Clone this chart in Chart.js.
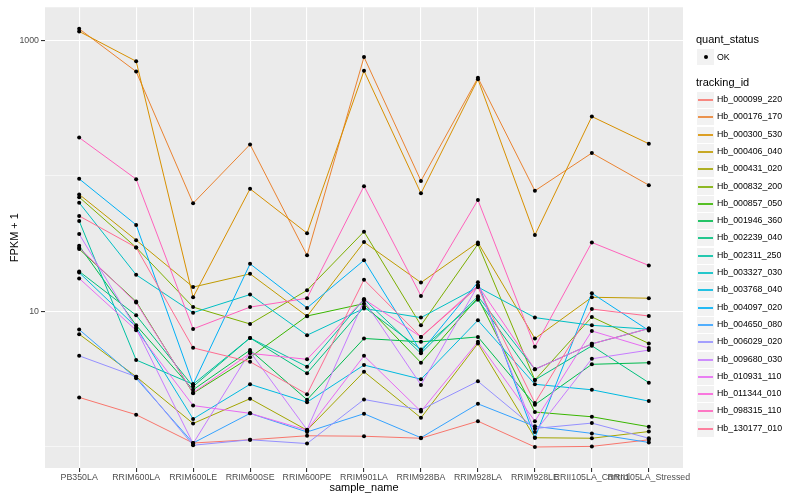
<!DOCTYPE html>
<html>
<head>
<meta charset="utf-8">
<script src="https://cdn.jsdelivr.net/npm/chart.js@4.4.0/dist/chart.umd.min.js"></script>
<style>
  body { margin: 0; background: #fff; }
  #wrap { position: relative; width: 800px; height: 500px; font-family: 'Liberation Sans', Arial, sans-serif; }
  #chart { position: absolute; left: 0; top: 0; }
  .lg { position: absolute; white-space: nowrap; color: #000; }
  .lg-title { font-size: 11px; line-height: 13px; }
  .lg-text { font-size: 8.8px; line-height: 11px; }
  .lg-key { position: absolute; width: 17px; height: 16px; background: #F2F2F2; }
  .lg-key .ln { position: absolute; left: 1px; right: 1px; top: 7px; height: 2px; opacity: 0.85; }
  .lg-key .dot { position: absolute; left: 6.5px; top: 6px; width: 4px; height: 4px; border-radius: 50%; background: #000; }
</style>
</head>
<body>
<div id="wrap">
  <canvas id="chart" width="800" height="500"></canvas>
  <div id="legend"></div>
</div>
<script>
const categories = ['PB350LA', 'RRIM600LA', 'RRIM600LE', 'RRIM600SE', 'RRIM600PE', 'RRIM901LA',
  'RRIM928BA', 'RRIM928LA', 'RRIM928LE', 'RRII105LA_Control', 'RRII105LA_Stressed'];

const trackingIds = ['Hb_000099_220', 'Hb_000176_170', 'Hb_000300_530', 'Hb_000406_040', 'Hb_000431_020',
  'Hb_000832_200', 'Hb_000857_050', 'Hb_001946_360', 'Hb_002239_040', 'Hb_002311_250',
  'Hb_003327_030', 'Hb_003768_040', 'Hb_004097_020', 'Hb_004650_080', 'Hb_006029_020',
  'Hb_009680_030', 'Hb_010931_110', 'Hb_011344_010', 'Hb_098315_110', 'Hb_130177_010'];

const seriesColors = ['#F8766D', '#EA8331', '#D89000', '#C09B00', '#A3A500', '#7CAE00', '#39B600',
  '#00BB4E', '#00BF7D', '#00C1A3', '#00BFC4', '#00BAE0', '#00B0F6', '#35A2FF', '#9590FF',
  '#C77CFF', '#E76BF3', '#FA62DB', '#FF62BC', '#FF6C91'];

// FPKM + 1, one value per sample
const hb_000099_220 = [2.32, 1.73, 1.07, 1.13, 1.21, 1.20, 1.16, 1.55, 1.00, 1.01, 1.13];
const hb_000176_170 = [1210, 586, 62.6, 170, 25.9, 750, 91.6, 527, 77.4, 147, 85.2];
const hb_000300_530 = [1158, 698, 12.7, 80, 37.7, 593, 74.1, 515, 36.5, 273, 172];
const hb_000406_040 = [72.8, 33.5, 15.1, 18.9, 9.2, 32.4, 16.3, 32.2, 6.3, 12.7, 12.5];
const hb_000431_020 = [6.79, 3.30, 1.49, 2.27, 1.33, 3.59, 1.64, 5.80, 1.17, 1.16, 1.30];
const hb_000832_200 = [69.5, 29.6, 10.75, 8.07, 14.3, 38.7, 7.89, 31.3, 3.12, 9.09, 5.80];
const hb_000857_050 = [28.8, 11.8, 2.49, 4.58, 9.24, 11.4, 4.18, 12.6, 1.81, 1.67, 1.41];
const hb_001946_360 = [30.4, 7.89, 2.64, 5.18, 2.23, 6.31, 5.96, 6.48, 2.05, 4.07, 4.18];
const hb_002239_040 = [19.7, 9.35, 2.79, 6.37, 3.50, 10.75, 5.24, 12.2, 3.12, 5.57, 2.98];
const hb_002311_250 = [46.4, 4.38, 2.90, 6.37, 3.91, 12.3, 4.90, 12.9, 3.74, 5.76, 7.47];
const hb_003327_030 = [63.2, 18.6, 9.78, 13.3, 6.67, 10.5, 8.99, 15.1, 8.99, 7.89, 7.38];
const hb_003768_040 = [19.3, 7.67, 1.61, 2.90, 2.14, 4.02, 3.16, 8.59, 2.90, 2.64, 2.18];
const hb_004097_020 = [94.8, 43.4, 2.90, 22.4, 10.6, 23.8, 5.03, 16.4, 1.17, 13.6, 7.22];
const hb_004650_080 = [7.34, 3.21, 1.07, 1.77, 1.29, 1.76, 1.17, 2.08, 1.42, 1.26, 1.08];
const hb_006029_020 = [4.70, 3.30, 1.03, 1.13, 1.06, 2.24, 1.88, 3.05, 1.37, 1.50, 1.16];
const hb_009680_030 = [37.1, 7.47, 1.06, 5.03, 1.34, 12.0, 2.87, 15.5, 1.29, 4.47, 5.18];
const hb_010931_110 = [17.5, 7.26, 2.02, 1.77, 1.33, 4.70, 1.83, 5.96, 1.55, 7.17, 5.36];
const hb_011344_010 = [29.4, 11.6, 2.51, 4.90, 4.43, 12.3, 6.48, 15.5, 3.74, 5.76, 7.47];
const hb_098315_110 = [191, 94.3, 7.42, 10.75, 12.5, 83.8, 13.0, 66.2, 5.48, 32.2, 21.8];
const hb_130177_010 = [50.5, 29.6, 5.38, 4.25, 2.45, 17.1, 6.48, 15.1, 2.11, 10.4, 9.24];

const seriesValues = [hb_000099_220, hb_000176_170, hb_000300_530, hb_000406_040, hb_000431_020,
  hb_000832_200, hb_000857_050, hb_001946_360, hb_002239_040, hb_002311_250,
  hb_003327_030, hb_003768_040, hb_004097_020, hb_004650_080, hb_006029_020,
  hb_009680_030, hb_010931_110, hb_011344_010, hb_098315_110, hb_130177_010];

const yMajorTicks = [10, 1000];
const yMinorTicks = [1, 100];

const fontFamily = "'Liberation Sans', Arial, sans-serif";

// grey panel behind the plot, like ggplot's theme_grey
const panelBackground = {
  id: 'panelBackground',
  beforeDraw(chart) {
    const { ctx, chartArea: a } = chart;
    ctx.save();
    ctx.fillStyle = '#EBEBEB';
    ctx.fillRect(a.left, a.top, a.right - a.left, a.bottom - a.top);
    ctx.restore();
  }
};

const toPoints = (vals) => vals.map((v, j) => ({ x: j, y: v }));

const lineSets = seriesValues.map((vals, i) => ({
  label: trackingIds[i],
  data: toPoints(vals),
  borderColor: seriesColors[i],
  borderWidth: 1,
  pointRadius: 0,
  tension: 0,
  fill: false,
  order: 100 - i
}));

const pointSets = seriesValues.map((vals, i) => ({
  label: trackingIds[i] + ' OK',
  data: toPoints(vals),
  showLine: false,
  pointRadius: 2,
  pointBackgroundColor: '#000',
  pointBorderWidth: 0,
  order: 0
}));

const isMajor = (v) => yMajorTicks.includes(v);

new Chart(document.getElementById('chart'), {
  type: 'line',
  data: { datasets: [...lineSets, ...pointSets] },
  options: {
    responsive: false,
    animation: false,
    events: [],
    layout: { padding: { top: 5, right: 117, left: 0, bottom: 0 } },
    plugins: {
      legend: { display: false },
      tooltip: { enabled: false }
    },
    scales: {
      x: {
        type: 'linear',
        min: -0.6,
        max: categories.length - 0.4,
        afterBuildTicks: (s) => { s.ticks = categories.map((c, i) => ({ value: i })); },
        afterFit: (s) => { s.height = 32; },
        ticks: {
          callback: (v) => categories[v],
          color: '#4D4D4D',
          font: { family: fontFamily, size: 8.8 },
          padding: 0,
          autoSkip: false,
          minRotation: 0,
          maxRotation: 0
        },
        grid: { color: '#FFFFFF', lineWidth: 1.1, tickColor: '#333333', tickLength: 4 },
        border: { display: false },
        title: {
          display: true,
          text: 'sample_name',
          color: '#000',
          font: { family: fontFamily, size: 11 },
          padding: { top: 0, bottom: 5 }
        }
      },
      y: {
        type: 'logarithmic',
        min: 0.708,
        max: 1745,
        afterBuildTicks: (s) => { s.ticks = [...yMinorTicks, ...yMajorTicks].sort((a, b) => a - b).map(v => ({ value: v })); },
        afterFit: (s) => { s.width = 45; },
        ticks: {
          callback: (v) => isMajor(v) ? String(v) : '',
          color: '#4D4D4D',
          font: { family: fontFamily, size: 8.8 },
          padding: 2
        },
        grid: {
          color: '#FFFFFF',
          lineWidth: (c) => isMajor(c.tick && c.tick.value) ? 1.1 : 0.55,
          tickColor: (c) => isMajor(c.tick && c.tick.value) ? '#333333' : 'rgba(0,0,0,0)',
          tickLength: 4
        },
        border: { display: false },
        title: {
          display: true,
          text: 'FPKM + 1',
          color: '#000',
          font: { family: fontFamily, size: 11 },
          padding: { top: 8, bottom: 0 }
        }
      }
    }
  },
  plugins: [panelBackground]
});

// legend on the right: quant_status and tracking_id
const legend = document.getElementById('legend');
function addEl(cls, css, html) {
  const d = document.createElement('div');
  d.className = cls;
  Object.assign(d.style, css);
  if (html !== undefined) d.innerHTML = html;
  legend.appendChild(d);
  return d;
}
addEl('lg lg-title', { left: '696px', top: '33px' }, 'quant_status');
addEl('lg-key', { left: '697px', top: '49px' }, '<div class="dot"></div>');
addEl('lg lg-text', { left: '717px', top: '51.5px' }, 'OK');
addEl('lg lg-title', { left: '696px', top: '76px' }, 'tracking_id');
trackingIds.forEach((id, i) => {
  const cy = Math.round(100 + i * 17.3);
  addEl('lg-key', { left: '697px', top: (cy - 8) + 'px' },
    '<div class="ln" style="background:' + seriesColors[i] + '"></div>');
  addEl('lg lg-text', { left: '717px', top: (cy - 6) + 'px' }, id);
});
</script>
</body>
</html>
